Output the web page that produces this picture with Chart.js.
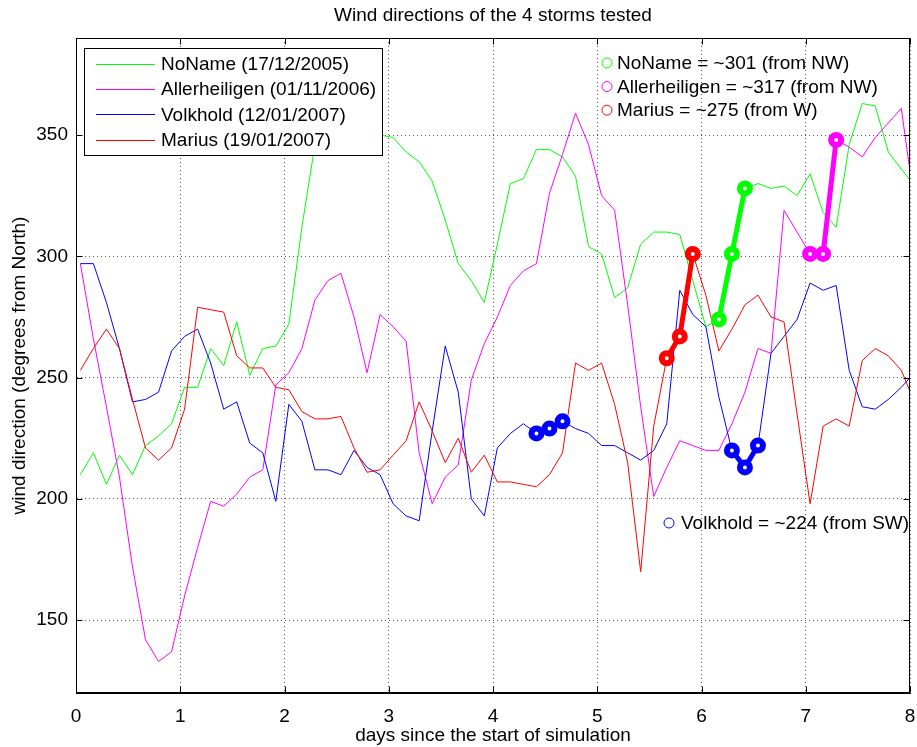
<!DOCTYPE html>
<html>
<head>
<meta charset="utf-8">
<script src="https://cdn.jsdelivr.net/npm/chart.js@4/dist/chart.umd.min.js"></script>
<style>
  body { margin: 0; background: #fff; overflow: hidden; }
  canvas { display: block; }
</style>
</head>
<body>
<canvas id="windChart" width="917" height="747"></canvas>
<script>
// sample times, hours since start of simulation
const hours = [1, 4, 7, 10, 13, 16, 19, 22, 25, 28, 31, 34, 37, 40, 43, 46, 49, 52, 55, 58,
    61, 64, 67, 70, 73, 76, 79, 82, 85, 88, 91, 94, 97, 100, 103, 106, 109, 112, 115, 118,
    121, 124, 127, 130, 133, 136, 139, 142, 145, 148, 151, 154, 157, 160, 163, 166, 169, 172, 175, 178,
    181, 184, 187, 190, 193];

const noname = [210, 219, 206, 218, 210, 222, 226, 231, 246, 246, 262, 255, 273, 251, 262, 263, 272, 312, 346, 352,
    355, 353, 351, 350, 349, 343, 339, 331, 315, 297, 290, 281, 305, 330, 332, 344, 344, 341, 333, 304,
    301, 283, 287, 305, 310, 310, 309, 290, 271, 274, 301, 328, 330, 328, 329, 325, 334, 318, 312, 346,
    363, 362, 343, 336, 329];

const allerheiligen = [297, 266, 238, 209, 172, 142, 133, 137, 160, 180, 199, 197, 202, 209, 212, 247, 252, 262, 282, 290,
    293, 275, 252, 276, 271, 265, 219, 198, 209, 214, 249, 264, 275, 288, 294, 297, 326, 342, 359, 346,
    325, 319, 280, 238, 201, 213, 224, 222, 220, 220, 231, 244, 262, 260, 319, 310, 301, 301, 348, 345,
    341, 349, 355, 361, 322];

const volkhold = [297, 297, 281, 262, 240, 241, 244, 261, 267, 270, 256, 237, 240, 223, 219, 199, 239, 232, 212, 212,
    210, 220, 213, 210, 198, 193, 191, 228, 263, 244, 200, 193, 221, 227, 231, 227, 229, 232, 229, 227,
    222, 222, 219, 216, 220, 231, 286, 276, 271, 242, 220, 213, 222, 260, 267, 274, 289, 286, 288, 253,
    238, 237, 241, 246, 252];

const marius = [253, 262, 270, 262, 241, 221, 216, 221, 237, 279, 278, 277, 259, 254, 254, 246, 245, 236, 233, 233,
    234, 221, 211, 212, 218, 224, 240, 228, 215, 225, 211, 218, 207, 207, 206, 205, 210, 219, 256, 253,
    256, 239, 215, 170, 230, 258, 267, 301, 284, 261, 270, 280, 284, 275, 273, 235, 198, 230, 233, 230,
    257, 262, 259, 253, 240];

// samples picked out for each storm
const nonameIdx = [49, 50, 51];
const allerIdx = [56, 57, 58];
const volkIdx1 = [35, 36, 37];
const volkIdx2 = [50, 51, 52];
const mariusIdx = [45, 46, 47];

const legendLabels = ['NoName (17/12/2005)', 'Allerheiligen (01/11/2006)', 'Volkhold (12/01/2007)', 'Marius (19/01/2007)'];
const noteLabels = ['NoName = ~301 (from NW)', 'Allerheiligen = ~317 (from NW)', 'Marius = ~275 (from W)'];
const volkNote = 'Volkhold = ~224 (from SW)';

const GREEN = '#00ff00', MAGENTA = '#ff00ff', BLUE = '#0000ff', RED = '#ff0000';
const FONT = '"Liberation Sans", Arial, sans-serif';

function toPoints(vals) {
    return vals.map((v, i) => ({ x: hours[i] / 24, y: v }));
}

function pick(vals, idx) {
    return idx.map(i => ({ x: hours[i] / 24, y: vals[i] }));
}

function thinLine(data, color, order) {
    return {
        data: toPoints(data),
        borderColor: color,
        borderWidth: 1,
        pointRadius: 0,
        tension: 0,
        order: order
    };
}

function thickLine(data, idx, color) {
    return {
        data: pick(data, idx),
        borderColor: color,
        borderWidth: 5,
        pointRadius: 5,
        pointBorderWidth: 6,
        pointBorderColor: color,
        pointBackgroundColor: '#fff',
        tension: 0,
        order: 0
    };
}

const decor = {
    id: 'decor',
    afterDraw(chart) {
        const ctx = chart.ctx;
        const a = chart.chartArea;
        const xs = chart.scales.x, ys = chart.scales.y;
        ctx.save();
        ctx.strokeStyle = '#000';
        ctx.lineWidth = 1;
        const L = Math.round(a.left) + 0.5, T = Math.round(a.top) + 0.5;
        const R = Math.round(a.right) - 0.5, B = Math.round(a.bottom) - 0.5;
        ctx.strokeRect(L, T, R - L, B - T);

        // inner tick marks on all four sides
        ctx.beginPath();
        xs.ticks.forEach(t => {
            const px = Math.round(xs.getPixelForValue(t.value)) + 0.5;
            ctx.moveTo(px, B); ctx.lineTo(px, B - 6);
            ctx.moveTo(px, T); ctx.lineTo(px, T + 6);
        });
        ys.ticks.forEach(t => {
            const py = Math.round(ys.getPixelForValue(t.value)) + 0.5;
            ctx.moveTo(L, py); ctx.lineTo(L + 6, py);
            ctx.moveTo(R, py); ctx.lineTo(R - 6, py);
        });
        ctx.stroke();

        ctx.fillStyle = '#000';
        ctx.font = '19px ' + FONT;
        ctx.textBaseline = 'middle';
        ctx.textAlign = 'center';

        // x tick labels
        xs.ticks.forEach(t => {
            ctx.fillText(String(t.value), xs.getPixelForValue(t.value), 717);
        });

        // title and axis labels
        const cx = (a.left + a.right) / 2;
        ctx.fillText('Wind directions of the 4 storms tested', cx, 16);
        ctx.fillText('days since the start of simulation', cx, 736);
        ctx.save();
        ctx.translate(20, (a.top + a.bottom) / 2);
        ctx.rotate(-Math.PI / 2);
        ctx.fillText('wind direction (degrees from North)', 0, 0);
        ctx.restore();

        // legend box
        ctx.fillStyle = '#fff';
        ctx.fillRect(84.5, 48.5, 298, 107);
        ctx.strokeRect(84.5, 48.5, 298, 107);
        const colors = [GREEN, MAGENTA, BLUE, RED];
        ctx.textAlign = 'left';
        legendLabels.forEach((txt, k) => {
            const y = 63.5 + k * 25.4;
            ctx.strokeStyle = colors[k];
            ctx.beginPath();
            ctx.moveTo(96, Math.round(y) + 0.5);
            ctx.lineTo(155, Math.round(y) + 0.5);
            ctx.stroke();
            ctx.fillStyle = '#000';
            ctx.fillText(txt, 161, y + 1);
        });

        // direction notes
        const noteColors = [GREEN, MAGENTA, RED];
        noteLabels.forEach((txt, k) => {
            const y = 63 + k * 23.6;
            ctx.strokeStyle = noteColors[k];
            ctx.beginPath();
            ctx.arc(607, y, 5, 0, Math.PI * 2);
            ctx.stroke();
            ctx.fillStyle = '#000';
            ctx.fillText(txt, 617, y + 1);
        });
        ctx.strokeStyle = BLUE;
        ctx.beginPath();
        ctx.arc(669, 523, 5, 0, Math.PI * 2);
        ctx.stroke();
        ctx.fillStyle = '#000';
        ctx.fillText(volkNote, 681, 524);
        ctx.restore();
    }
};

Chart.defaults.font.family = FONT;
Chart.defaults.color = '#000';

new Chart(document.getElementById('windChart').getContext('2d'), {
    type: 'line',
    data: {
        datasets: [
            thickLine(noname, nonameIdx, GREEN),
            thickLine(allerheiligen, allerIdx, MAGENTA),
            thickLine(volkhold, volkIdx1, BLUE),
            thickLine(volkhold, volkIdx2, BLUE),
            thickLine(marius, mariusIdx, RED),
            thinLine(noname, GREEN, 5),
            thinLine(allerheiligen, MAGENTA, 4),
            thinLine(volkhold, BLUE, 3),
            thinLine(marius, RED, 2)
        ]
    },
    options: {
        responsive: false,
        animation: false,
        devicePixelRatio: 1,
        layout: { autoPadding: false, padding: { top: 38, right: 7, left: 0, bottom: 0 } },
        plugins: {
            legend: { display: false },
            title: { display: false },
            tooltip: { enabled: false }
        },
        scales: {
            x: {
                type: 'linear',
                min: 0,
                max: 8,
                ticks: { stepSize: 1, display: false },
                grid: { color: '#555', drawTicks: false },
                border: { color: '#000', dash: [1, 3] },
                afterFit: s => { s.height = 54; }
            },
            y: {
                min: 120,
                max: 390,
                ticks: { stepSize: 50, includeBounds: false, font: { size: 19 }, padding: 8, color: '#000' },
                grid: { color: '#555', drawTicks: false },
                border: { color: '#000', dash: [1, 3] },
                afterFit: s => { s.width = 76; }
            }
        }
    },
    plugins: [decor]
});
</script>
</body>
</html>
